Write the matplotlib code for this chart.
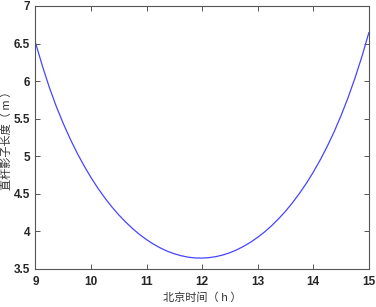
import matplotlib
matplotlib.use("Agg")
import matplotlib.pyplot as plt

# Data (Beijing time in hours, pole shadow length in m)
hours = [9.000, 9.125, 9.250, 9.375, 9.500, 9.625, 9.750, 9.875,
         10.000, 10.125, 10.250, 10.375, 10.500, 10.625, 10.750, 10.875,
         11.000, 11.125, 11.250, 11.375, 11.500, 11.625, 11.750, 11.875,
         12.000, 12.125, 12.250, 12.375, 12.500, 12.625, 12.750, 12.875,
         13.000, 13.125, 13.250, 13.375, 13.500, 13.625, 13.750, 13.875,
         14.000, 14.125, 14.250, 14.375, 14.500, 14.625, 14.750, 14.875,
         15.000]
shadow = [6.510, 6.200, 5.915, 5.662, 5.436, 5.230, 5.042, 4.872,
          4.716, 4.573, 4.444, 4.326, 4.219, 4.123, 4.036, 3.958,
          3.890, 3.830, 3.779, 3.736, 3.702, 3.676, 3.657, 3.647,
          3.645, 3.651, 3.665, 3.687, 3.717, 3.756, 3.803, 3.858,
          3.922, 3.994, 4.076, 4.168, 4.269, 4.381, 4.505, 4.640,
          4.789, 4.952, 5.130, 5.326, 5.542, 5.779, 6.040, 6.327,
          6.645]

xticks = [9, 10, 11, 12, 13, 14, 15]
yticks = [3.5, 4, 4.5, 5, 5.5, 6, 6.5, 7]
ytick_labels = ["3.5", "4", "4.5", "5", "5.5", "6", "6.5", "7"]
xlabel = "北京时间（ h ）"
ylabel = "直杆影子长度（ m ）"

fig = plt.figure(figsize=(3.76, 3.07), dpi=100)
ax = fig.add_axes([0.0944, 0.1238, 0.8866, 0.8567])

ax.plot(hours, shadow, color="#4545ff", lw=0.9)

ax.set_xlim(9, 15)
ax.set_ylim(3.5, 7)
ax.set_xticks(xticks)
ax.set_xticklabels([str(v) for v in xticks])
ax.set_yticks(yticks)
ax.set_yticklabels(ytick_labels)

tick_color = "#555555"
for s in ax.spines.values():
    s.set_color(tick_color)
    s.set_linewidth(0.8)
ax.tick_params(direction="in", length=3.5, width=0.7, color=tick_color,
               top=True, right=True, labelsize=8.5, labelcolor="#262626")
ax.tick_params(axis="x", pad=5)
ax.tick_params(axis="y", pad=4)
for lab in ax.get_xticklabels() + ax.get_yticklabels():
    lab.set_family(["Liberation Sans", "DejaVu Sans"])
    lab.set_fontweight("bold")

cjk = ["Noto Sans CJK SC", "DejaVu Sans"]
ax.set_xlabel(xlabel, family=cjk, fontsize=8, color="#333333", labelpad=3)
ax.set_ylabel(ylabel, family=cjk, fontsize=8, color="#333333", labelpad=1)

fig.savefig("out.png", dpi=100)
